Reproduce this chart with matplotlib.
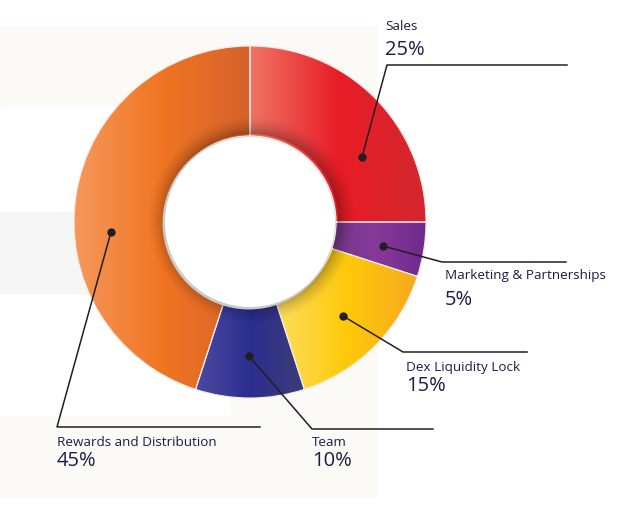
import numpy as np
import matplotlib
matplotlib.use("Agg")
import matplotlib.pyplot as plt
from matplotlib.patches import Rectangle, Wedge, Circle
from matplotlib.colors import LinearSegmentedColormap

# data
labels = ["Sales", "Marketing & Partnerships", "Dex Liquidity Lock", "Team", "Rewards and Distribution"]
shares = [25, 5, 15, 10, 45]
pct_text = ["25%", "5%", "15%", "10%", "45%"]

# left / middle / right gradient stops for each slice
stops = [
    ["#EF7565", "#E81C26", "#D2282E"],
    ["#7A3A8C", "#86389A", "#6E2A8C"],
    ["#FDDD5C", "#FFC90A", "#F6A91E"],
    ["#4C4AA2", "#2B2E8E", "#3D3C78"],
    ["#F6985C", "#F07522", "#D5622B"],
]

W, H = 640, 507
def py(y):
    return H - y

fig = plt.figure(figsize=(6.4, 5.07), dpi=100)
ax = fig.add_axes([0, 0, 1, 1])

# background panels
ax.add_patch(Rectangle((0, py(497)), 376, 471, color="#FCFAF6", zorder=0))
ax.add_patch(Rectangle((0, py(212)), 230, 105, color="white", zorder=0.5))
ax.add_patch(Rectangle((0, py(415)), 230, 122, color="white", zorder=0.5))
ax.add_patch(Rectangle((0, py(293)), 200, 81, color="#F6F6F6", zorder=0.6))

cx, cy = 250, py(222)
R, r_in = 176, 86

wedges, _ = ax.pie(shares, startangle=90, counterclock=False, radius=R,
                   center=(cx, cy), frame=True,
                   wedgeprops=dict(width=R - r_in, edgecolor="#F4EDE8", linewidth=0.8))
ax.set_xlim(0, W)
ax.set_ylim(0, H)
ax.set_aspect("equal")
ax.axis("off")

grad = np.linspace(0, 1, 256).reshape(1, -1)
for w, st in zip(wedges, stops):
    cmap = LinearSegmentedColormap.from_list("g", st)
    w.set_facecolor(st[1])
    w.set_zorder(2)
    bb = w.get_path().get_extents()
    im = ax.imshow(grad, cmap=cmap, extent=[bb.x0, bb.x1, bb.y0, bb.y1],
                   aspect="auto", zorder=2.1, interpolation="bicubic")
    im.set_clip_path(w)
    # thin separator above the gradient
    edge = Wedge((cx, cy), R, w.theta1, w.theta2, width=R - r_in,
                 facecolor="none", edgecolor="#F6EEE9", linewidth=0.8, zorder=2.5)
    ax.add_patch(edge)

# inner shadow around the hole
n = 18
for i in range(n):
    a = 0.24 * (1 - i / n) ** 1.6
    ax.add_patch(Wedge((cx + 2, cy + 2), r_in + i + 1, 0, 360, width=1.2,
                       facecolor="black", edgecolor="none", alpha=a, zorder=2.6))
ax.add_patch(Circle((cx - 1, cy - 1), r_in + 0.5, facecolor="#C9C9C9", edgecolor="none", zorder=2.8))
ax.add_patch(Circle((cx, cy), r_in - 1, facecolor="white", edgecolor="none", zorder=2.9))

# leader lines: dot in wedge -> corner -> end of horizontal rule
dots = [(362, 157), (383, 246), (343, 316), (249, 356), (111, 232)]
corners = [(387, 65), (442, 262), (403, 352), (312, 429), (57, 427)]
ends = [567, 566, 527, 433, 260]
text_x = [385, 445, 406, 312, 57]
name_y = [27, 275, 367, 442, 442]
pct_y = [50, 300, 386, 461, 461]

line_c = "#231F20"
text_c = "#1B1D48"
for i in range(len(labels)):
    (dx, dy), (kx, ky) = dots[i], corners[i]
    ax.plot([dx, kx, ends[i]], [py(dy), py(ky), py(ky)], color=line_c, lw=1.1, zorder=4)
    ax.plot(dx, py(dy), "o", color=line_c, ms=5, zorder=4)
    ax.text(text_x[i], py(name_y[i]), labels[i], fontsize=9.7, family="Open Sans",
            color=text_c, va="center", ha="left", zorder=5)
    ax.text(text_x[i], py(pct_y[i]), pct_text[i], fontsize=14.5, family="Open Sans",
            color=text_c, va="center", ha="left", zorder=5)

fig.savefig("out.png", dpi=100)
